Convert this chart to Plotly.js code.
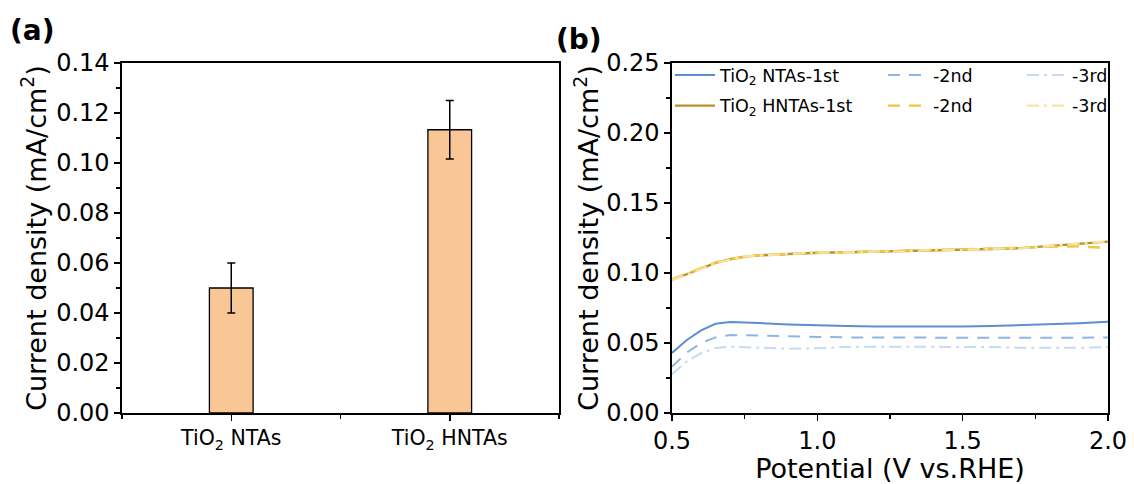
<!DOCTYPE html>
<html>
<head>
<meta charset="utf-8">
<script src="https://cdn.plot.ly/plotly-3.0.1.min.js"></script>
<style>html,body{margin:0;padding:0;background:#fff;}#chart{width:1134px;height:484px;}</style>
</head>
<body>
<div id="chart"></div>
<script>
// ---------- Panel (a): bar chart ----------
const samples = ["TiO<sub>2</sub> NTAs", "TiO<sub>2</sub> HNTAs"];
const meanDensity = [0.050, 0.1133];
const errDensity = [0.010, 0.0117];

// ---------- Panel (b): current density vs potential ----------
const potential = [0.50, 0.55, 0.60, 0.65, 0.70, 0.75, 0.80, 0.90, 1.00, 1.10, 1.20, 1.30, 1.40, 1.50, 1.60, 1.70, 1.80, 1.90, 2.00];
const ntas1 = [0.0429, 0.052, 0.059, 0.0637, 0.065, 0.0648, 0.0642, 0.0632, 0.0625, 0.0621, 0.0618, 0.0617, 0.0617, 0.0618, 0.0621, 0.0626, 0.0632, 0.0641, 0.0651];
const ntas2 = [0.0331, 0.043, 0.050, 0.054, 0.0557, 0.0555, 0.0548, 0.0544, 0.0542, 0.0540, 0.0539, 0.0538, 0.0538, 0.0537, 0.0538, 0.0537, 0.0537, 0.0538, 0.0539];
const ntas3 = [0.0279, 0.0367, 0.0428, 0.0464, 0.0474, 0.0470, 0.0464, 0.0459, 0.0462, 0.0472, 0.0474, 0.0474, 0.0475, 0.0474, 0.0471, 0.0466, 0.0464, 0.0466, 0.0470];
const hntas1 = [0.0950, 0.0992, 0.1033, 0.1072, 0.1098, 0.1117, 0.1126, 0.1136, 0.1145, 0.1148, 0.1152, 0.1157, 0.1164, 0.1166, 0.1171, 0.1178, 0.1193, 0.1207, 0.1224];
const hntas2 = [0.0955, 0.0995, 0.1036, 0.1075, 0.1100, 0.1115, 0.1128, 0.1138, 0.1143, 0.1150, 0.1150, 0.1160, 0.1162, 0.1168, 0.1170, 0.1180, 0.1188, 0.1190, 0.1178];
const hntas3 = [0.0948, 0.0990, 0.1030, 0.1070, 0.1096, 0.1119, 0.1124, 0.1134, 0.1147, 0.1146, 0.1154, 0.1155, 0.1166, 0.1164, 0.1173, 0.1176, 0.1195, 0.1210, 0.1226];
const seriesNames = ["TiO<sub>2</sub> NTAs-1st", "-2nd", "-3rd", "TiO<sub>2</sub> HNTAs-1st", "-2nd", "-3rd"];
const seriesColors = ["#5b8fd0", "#8fb5e3", "#c6daf1", "#b8922b", "#f3c43c", "#f6e3a0"];

const FONT = "DejaVu Sans, Liberation Sans, Arial, sans-serif";
const W = 1134, H = 484;
const px = v => v / W;
const py = v => 1 - v / H;

const traces = [];
traces.push({
  type: "bar",
  x: samples.map((s, i) => i),
  y: meanDensity,
  width: 0.2,
  marker: {color: "#f9c796", line: {color: "#000", width: 1.3}},
  error_y: {type: "data", array: errDensity, visible: true, color: "#000", thickness: 1.5, width: 4},
  xaxis: "x", yaxis: "y",
  showlegend: false, hoverinfo: "skip"
});

const lineData = [ntas1, ntas2, ntas3, hntas1, hntas2, hntas3];
const dashes = ["solid", "12px,9px", "12px,5px,3px,5px", "solid", "12px,9px", "12px,5px,3px,5px"];
const widths = [2, 2, 2, 2.4, 2.4, 2.4];
const legendIds = ["legend", "legend2", "legend3", "legend", "legend2", "legend3"];
lineData.forEach((arr, i) => {
  traces.push({
    type: "scatter", mode: "lines",
    x: potential, y: arr,
    name: seriesNames[i],
    line: {color: seriesColors[i], width: widths[i], dash: dashes[i]},
    xaxis: "x2", yaxis: "y2",
    legend: legendIds[i],
    legendgroup: "g" + i,
    hoverinfo: "skip"
  });
});

const axisCommon = {
  showline: true, linecolor: "#000", linewidth: 1.6, mirror: true,
  ticks: "outside", ticklen: 6, tickwidth: 1.5, tickcolor: "#000",
  showgrid: false, zeroline: false,
  tickfont: {family: FONT, size: 24, color: "#000"}
};

const legendCommon = {
  font: {family: FONT, size: 17.5, color: "#000"},
  bgcolor: "rgba(0,0,0,0)", borderwidth: 0,
  xanchor: "left", yanchor: "top",
  itemwidth: 40, tracegroupgap: 5, traceorder: "grouped",
  itemclick: false, itemdoubleclick: false
};

const layout = {
  width: W, height: H,
  margin: {l: 0, r: 0, t: 0, b: 0},
  paper_bgcolor: "#fff", plot_bgcolor: "#fff",
  showlegend: true,
  xaxis: Object.assign({}, axisCommon, {
    domain: [px(122), px(559)],
    range: [-0.5, 1.5],
    tickmode: "array",
    tickvals: samples.map((s, i) => i),
    ticktext: samples,
    tickfont: {family: FONT, size: 20.5, color: "#000"},
    minor: {tickmode: "linear", tick0: 0.5, dtick: 1, ticks: "outside", ticklen: 4, tickwidth: 1.5, tickcolor: "#000"},
    anchor: "y"
  }),
  yaxis: Object.assign({}, axisCommon, {
    domain: [py(413), py(63)],
    range: [0, 0.14],
    dtick: 0.02, tickformat: ".2f",
    minor: {dtick: 0.01, ticks: "outside", ticklen: 4, tickwidth: 1.5, tickcolor: "#000"},
    title: {text: "Current density (mA/cm<sup>2</sup>)", font: {family: FONT, size: 27, color: "#000"}, standoff: 2},
    anchor: "x"
  }),
  xaxis2: Object.assign({}, axisCommon, {
    domain: [px(672), px(1108)],
    range: [0.5, 2.0],
    dtick: 0.5, tickformat: ".1f",
    minor: {dtick: 0.25, ticks: "outside", ticklen: 4, tickwidth: 1.5, tickcolor: "#000"},
    title: {text: "Potential (V vs.RHE)", font: {family: FONT, size: 27, color: "#000"}, standoff: 0},
    anchor: "y2"
  }),
  yaxis2: Object.assign({}, axisCommon, {
    domain: [py(413), py(63)],
    range: [0, 0.25],
    dtick: 0.05, tickformat: ".2f",
    minor: {dtick: 0.025, ticks: "outside", ticklen: 4, tickwidth: 1.5, tickcolor: "#000"},
    title: {text: "Current density (mA/cm<sup>2</sup>)", font: {family: FONT, size: 27, color: "#000"}, standoff: -4},
    anchor: "x2"
  }),
  legend: Object.assign({}, legendCommon, {x: px(670), y: py(57)}),
  legend2: Object.assign({}, legendCommon, {x: px(883), y: py(57)}),
  legend3: Object.assign({}, legendCommon, {x: px(1022), y: py(57)}),
  annotations: [
    {text: "<b>(a)</b>", xref: "paper", yref: "paper", x: px(8), y: py(30), xanchor: "left", yanchor: "middle", showarrow: false, font: {family: FONT, size: 28, color: "#000"}},
    {text: "<b>(b)</b>", xref: "paper", yref: "paper", x: px(554), y: py(39), xanchor: "left", yanchor: "middle", showarrow: false, font: {family: FONT, size: 28, color: "#000"}}
  ]
};

Plotly.newPlot("chart", traces, layout, {displayModeBar: false, staticPlot: true});
</script>
</body>
</html>
